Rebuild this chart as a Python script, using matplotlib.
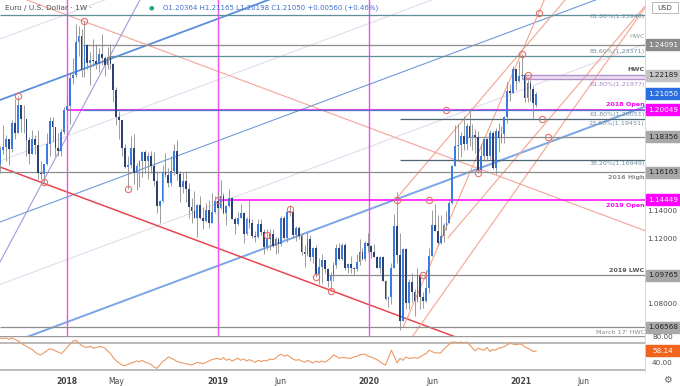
import numpy as np
import pandas as pd
import matplotlib
matplotlib.use('Agg')
import matplotlib.pyplot as plt
import matplotlib.dates as mdates
from matplotlib.patches import Rectangle

# weekly EUR/USD candles, week of 2017-07-24 through 2021-02-08
weeks = pd.date_range('2017-07-24', periods=186, freq='7D')

open_ = [
    # 2017
    1.1665, 1.1752, 1.1774, 1.1822, 1.1761, 1.1924, 1.1860, 1.2035, 1.1945, 1.1950, 1.1816, 1.1730,
    1.1820, 1.1785, 1.1610, 1.1608, 1.1665, 1.1790, 1.1935, 1.1895, 1.1770, 1.1750, 1.1865,
    # 2018
    1.2005, 1.2030, 1.2200, 1.2220, 1.2425, 1.2460, 1.2250, 1.2405, 1.2295, 1.2315, 1.2305, 1.2290,
    1.2350, 1.2325, 1.2280, 1.2330, 1.2290, 1.2130, 1.1960, 1.1940, 1.1770, 1.1650, 1.1660, 1.1770,
    1.1610, 1.1655, 1.1685, 1.1745, 1.1685, 1.1720, 1.1655, 1.1565, 1.1410, 1.1440, 1.1620, 1.1600,
    1.1550, 1.1625, 1.1750, 1.1605, 1.1525, 1.1560, 1.1515, 1.1400, 1.1375, 1.1335, 1.1415, 1.1335,
    1.1315, 1.1385, 1.1305, 1.1370, 1.1440,
    # 2019
    1.1395, 1.1470, 1.1365, 1.1410, 1.1455, 1.1325, 1.1295, 1.1335, 1.1365, 1.1235, 1.1325, 1.1300,
    1.1220, 1.1215, 1.1295, 1.1245, 1.1150, 1.1200, 1.1235, 1.1160, 1.1205, 1.1170, 1.1330, 1.1210,
    1.1370, 1.1370, 1.1225, 1.1270, 1.1220, 1.1125, 1.1110, 1.1200, 1.1090, 1.1145, 1.0985, 1.1030,
    1.1075, 1.1015, 1.0940, 1.0975, 1.1040, 1.1145, 1.1080, 1.1165, 1.1020, 1.1050, 1.1020, 1.1015,
    1.1060, 1.1120, 1.1080, 1.1175,
    # 2020
    1.1160, 1.1120, 1.1090, 1.1025, 1.1090, 1.0945, 1.0830, 1.0845, 1.1025, 1.1285, 1.1105, 1.0695,
    1.1140, 1.0805, 1.0935, 1.0875, 1.0820, 1.0980, 1.0840, 1.0820, 1.0900, 1.1100, 1.1290, 1.1255,
    1.1180, 1.1220, 1.1290, 1.1300, 1.1425, 1.1655, 1.1780, 1.1785, 1.1840, 1.1795, 1.1905, 1.1835,
    1.1845, 1.1835, 1.1630, 1.1715, 1.1825, 1.1715, 1.1860, 1.1645, 1.1875, 1.1830, 1.1855, 1.1960,
    1.2120, 1.2110, 1.2255, 1.2185,
    # 2021
    1.2215, 1.2220, 1.2075, 1.2170, 1.2135, 1.20364,
]
high = [
    1.1777, 1.1910, 1.1845, 1.1823, 1.1941, 1.2070, 1.2092, 1.2035, 1.2034, 1.1950, 1.1835, 1.1880,
    1.1845, 1.1880, 1.1688, 1.1670, 1.1860, 1.1961, 1.1961, 1.1900, 1.1862, 1.1885, 1.2023,
    1.2089, 1.2230, 1.2323, 1.2537, 1.2521, 1.2507, 1.2556, 1.2410, 1.2365, 1.2446, 1.2413, 1.2388,
    1.2476, 1.2340, 1.2396, 1.2414, 1.2295, 1.2145, 1.1995, 1.1944, 1.1790, 1.1720, 1.1840, 1.1852,
    1.1675, 1.1690, 1.1749, 1.1755, 1.1745, 1.1750, 1.1744, 1.1622, 1.1446, 1.1663, 1.1734, 1.1643,
    1.1720, 1.1791, 1.1815, 1.1625, 1.1621, 1.1622, 1.1549, 1.1456, 1.1500, 1.1420, 1.1472, 1.1402,
    1.1423, 1.1443, 1.1486, 1.1470, 1.1497,
    1.1570, 1.1490, 1.1415, 1.1514, 1.1463, 1.1341, 1.1370, 1.1420, 1.1370, 1.1340, 1.1448, 1.1325,
    1.1255, 1.1324, 1.1324, 1.1264, 1.1265, 1.1264, 1.1262, 1.1215, 1.1214, 1.1348, 1.1347, 1.1380,
    1.1412, 1.1385, 1.1286, 1.1286, 1.1241, 1.1166, 1.1250, 1.1230, 1.1153, 1.1165, 1.1085, 1.1110,
    1.1075, 1.1025, 1.0999, 1.1063, 1.1172, 1.1179, 1.1175, 1.1176, 1.1052, 1.1097, 1.1030, 1.1110,
    1.1200, 1.1146, 1.1188, 1.1239,
    1.1165, 1.1173, 1.1100, 1.1097, 1.1095, 1.0950, 1.0850, 1.1053, 1.1356, 1.1496, 1.1237, 1.1147,
    1.1147, 1.0955, 1.0990, 1.0890, 1.1020, 1.0980, 1.0876, 1.1008, 1.1147, 1.1384, 1.1422, 1.1350,
    1.1349, 1.1302, 1.1375, 1.1452, 1.1660, 1.1909, 1.1916, 1.1866, 1.1966, 1.1922, 1.2011, 1.1917,
    1.1883, 1.1872, 1.1790, 1.1830, 1.1830, 1.1880, 1.1870, 1.1891, 1.1920, 1.1905, 1.1965, 1.2177,
    1.2167, 1.2273, 1.2260, 1.2310,
    1.2349, 1.2230, 1.2190, 1.2190, 1.2150, 1.21165,
]
low = [
    1.1612, 1.1730, 1.1688, 1.1662, 1.1742, 1.1823, 1.1860, 1.1868, 1.1861, 1.1717, 1.1669, 1.1730,
    1.1730, 1.1574, 1.1573, 1.1554, 1.1660, 1.1720, 1.1807, 1.1716, 1.1717, 1.1718, 1.1855,
    1.2003, 1.1916, 1.2165, 1.2210, 1.2338, 1.2206, 1.2206, 1.2260, 1.2155, 1.2273, 1.2260, 1.2240,
    1.2280, 1.2215, 1.2260, 1.2260, 1.2055, 1.1910, 1.1823, 1.1717, 1.1645, 1.1510, 1.1644, 1.1541,
    1.1508, 1.1528, 1.1590, 1.1612, 1.1575, 1.1612, 1.1529, 1.1365, 1.1301, 1.1432, 1.1588, 1.1526,
    1.1530, 1.1602, 1.1569, 1.1432, 1.1485, 1.1432, 1.1335, 1.1301, 1.1335, 1.1216, 1.1325, 1.1267,
    1.1311, 1.1270, 1.1301, 1.1365, 1.1310,
    1.1390, 1.1360, 1.1290, 1.1400, 1.1325, 1.1235, 1.1290, 1.1330, 1.1176, 1.1225, 1.1272, 1.1212,
    1.1183, 1.1210, 1.1226, 1.1110, 1.1135, 1.1134, 1.1155, 1.1107, 1.1116, 1.1160, 1.1202, 1.1182,
    1.1345, 1.1208, 1.1193, 1.1200, 1.1101, 1.1027, 1.1100, 1.1067, 1.1051, 1.0965, 1.0926, 1.0927,
    1.0990, 1.0903, 1.0879, 1.0940, 1.1020, 1.1075, 1.1073, 1.1013, 1.0990, 1.0990, 1.0981, 1.1005,
    1.1039, 1.1075, 1.1065, 1.1125,
    1.1085, 1.1090, 1.1020, 1.0992, 1.0940, 1.0827, 1.0778, 1.0801, 1.1020, 1.1055, 1.0636, 1.0695,
    1.0768, 1.0770, 1.0812, 1.0727, 1.0810, 1.0768, 1.0775, 1.0810, 1.0870, 1.1095, 1.1250, 1.1168,
    1.1170, 1.1185, 1.1260, 1.1300, 1.1420, 1.1655, 1.1695, 1.1710, 1.1753, 1.1755, 1.1780, 1.1753,
    1.1737, 1.1612, 1.1612, 1.1686, 1.1689, 1.1700, 1.1640, 1.1603, 1.1745, 1.1800, 1.1800, 1.1923,
    1.2059, 1.2110, 1.2130, 1.2175,
    1.2194, 1.2055, 1.2054, 1.2060, 1.1952, 1.20198,
]
close = [
    1.1752, 1.1774, 1.1822, 1.1761, 1.1924, 1.1860, 1.2035, 1.1945, 1.1950, 1.1816, 1.1730, 1.1820,
    1.1785, 1.1610, 1.1608, 1.1665, 1.1790, 1.1935, 1.1895, 1.1770, 1.1750, 1.1865, 1.2005,
    1.2030, 1.2200, 1.2220, 1.2425, 1.2460, 1.2250, 1.2405, 1.2295, 1.2315, 1.2305, 1.2290, 1.2350,
    1.2325, 1.2280, 1.2330, 1.2290, 1.2130, 1.1960, 1.1940, 1.1770, 1.1650, 1.1660, 1.1770, 1.1610,
    1.1655, 1.1685, 1.1745, 1.1685, 1.1720, 1.1655, 1.1565, 1.1410, 1.1440, 1.1620, 1.1600, 1.1550,
    1.1625, 1.1750, 1.1605, 1.1525, 1.1560, 1.1515, 1.1400, 1.1375, 1.1335, 1.1415, 1.1335, 1.1315,
    1.1385, 1.1305, 1.1370, 1.1440, 1.1395,
    1.1470, 1.1365, 1.1410, 1.1455, 1.1325, 1.1295, 1.1335, 1.1365, 1.1235, 1.1325, 1.1300, 1.1220,
    1.1215, 1.1295, 1.1245, 1.1150, 1.1200, 1.1235, 1.1160, 1.1205, 1.1170, 1.1330, 1.1210, 1.1370,
    1.1370, 1.1225, 1.1270, 1.1220, 1.1125, 1.1110, 1.1200, 1.1090, 1.1145, 1.0985, 1.1030, 1.1075,
    1.1015, 1.0940, 1.0975, 1.1040, 1.1145, 1.1080, 1.1165, 1.1020, 1.1050, 1.1020, 1.1015, 1.1060,
    1.1120, 1.1080, 1.1175, 1.1160,
    1.1120, 1.1090, 1.1025, 1.1090, 1.0945, 1.0830, 1.0845, 1.1025, 1.1285, 1.1105, 1.0695, 1.1140,
    1.0805, 1.0935, 1.0875, 1.0820, 1.0980, 1.0840, 1.0820, 1.0900, 1.1100, 1.1290, 1.1255, 1.1180,
    1.1220, 1.1290, 1.1300, 1.1425, 1.1655, 1.1780, 1.1785, 1.1840, 1.1795, 1.1905, 1.1835, 1.1845,
    1.1835, 1.1630, 1.1715, 1.1825, 1.1715, 1.1860, 1.1645, 1.1875, 1.1830, 1.1855, 1.1960, 1.2120,
    1.2110, 1.2255, 1.2185, 1.2215,
    1.2220, 1.2075, 1.2170, 1.2135, 1.2045, 1.21050,
]

# weekly RSI
rsi = [
    77, 76, 77, 75, 77, 75, 73, 70, 67, 65, 62, 60, 56, 53, 52, 55, 58, 61, 60, 58, 56, 54, 58, 63,
    68, 72, 74, 70, 66, 64, 63, 65, 62, 63, 64, 64, 62, 58, 54, 48, 43, 40, 37, 36, 38, 40, 41, 43,
    42, 44, 41, 40, 38, 34, 32, 37, 42, 45, 49, 47, 45, 42, 41, 40, 39, 38, 37, 39, 41, 40, 39, 41,
    43, 45, 46, 47, 45, 48, 44, 46, 43, 45, 47, 44, 46, 43, 45, 43, 41, 44, 42, 44, 43, 46, 45, 47,
    51, 53, 50, 52, 49, 46, 44, 45, 43, 41, 44, 42, 40, 43, 41, 43, 41, 44, 47, 52, 50,
    47, 48, 48, 47, 47, 49, 50, 52, 53, 53, 50, 49, 47, 45, 42, 39, 37, 48, 59, 50, 40, 47, 44, 49,
    47, 47, 48, 47, 49, 52, 54, 59, 57, 55, 55, 55, 60, 64, 68, 71, 71, 70, 71, 70, 71, 67, 62, 58,
    62, 60, 59, 63, 57, 60, 59, 62, 63, 64, 67, 69, 68, 67, 68, 68, 64, 62, 60, 57, 58.14,
]

# horizontal levels: price, start date, colour, width
levels = [
    (1.25948, '2017-07-01', '#5f8f9c', 0.9),
    (1.24091, '2018-02-08', '#8c8c8c', 0.9),
    (1.23371, '2018-04-15', '#5f8f9c', 0.9),
    (1.22189, '2021-01-05', '#b28fc4', 0.9),
    (1.21977, '2021-01-05', '#b28fc4', 0.9),
    (1.20049, '2018-01-01', '#ff00ff', 1.1),
    (1.20051, '2018-02-08', '#4a78c0', 0.9),
    (1.19451, '2020-03-16', '#4d6670', 0.9),
    (1.18356, '2020-08-25', '#8c8c8c', 0.9),
    (1.16949, '2020-03-16', '#4d6670', 0.9),
    (1.16163, '2017-07-01', '#8c8c8c', 0.9),
    (1.14449, '2019-01-01', '#ff00ff', 1.1),
    (1.09765, '2019-09-24', '#8c8c8c', 0.9),
    (1.06568, '2017-07-01', '#8c8c8c', 0.9),
]

# level notes at the right edge: price of text, text, colour, bold
notes = [
    (1.2583, '61.80%(1.25948)', '#6f8fa0', False),
    (1.2458, 'HWC', '#9a9a9a', False),
    (1.2365, '88.60%(1.23371)', '#6f8fa0', False),
    (1.2254, 'HWC', '#555555', True),
    (1.2160, '61.80%(1.21977)', '#a184b8', False),
    (1.2035, '2018 Open', '#ff00ff', True),
    (1.1975, '61.80%(1.20051)', '#6f8fa0', False),
    (1.1920, '23.60%(1.19451)', '#6f8fa0', False),
    (1.1672, '38.20%(1.16949)', '#6f8fa0', False),
    (1.1585, '2016 High', '#8a8a8a', True),
    (1.1412, '2019 Open', '#ff00ff', True),
    (1.1010, '2019 LWC', '#555555', True),
    (1.0625, "March 17' HWC", '#8a8a8a', False),
]

# price tags on the right scale: price, text, fill, text colour
tags = [
    (1.24091, '1.24091', '#8a8a8a', 'white'),
    (1.22189, '1.22189', '#c4c4c4', '#222222'),
    (1.21050, '1.21050', '#2a6ee0', 'white'),
    (1.20049, '1.20049', '#ff00ff', 'white'),
    (1.18356, '1.18356', '#a8a8a8', '#222222'),
    (1.16163, '1.16163', '#a8a8a8', '#222222'),
    (1.14449, '1.14449', '#ff00ff', 'white'),
    (1.09765, '1.09765', '#a8a8a8', '#222222'),
    (1.06568, '1.06568', '#a8a8a8', '#222222'),
]
# scale labels left uncovered by the tags
price_ticks = [1.14, 1.12, 1.08]

# trend lines: two anchor points each (date, price)
blue_channel = [
    (('2017-07-23', 1.20650), ('2021-07-13', 1.34534), '#5b8fdc', 1.3),
    (('2017-07-23', 1.13082), ('2021-07-13', 1.26966), '#6f9bd8', 0.8),
    (('2017-07-23', 1.05327), ('2021-07-13', 1.19210), '#7aa5e6', 1.4),
]
faint_lines = [
    (('2017-07-23', 1.24434), ('2021-07-13', 1.38318)),
    (('2017-07-23', 1.16866), ('2021-07-13', 1.30750)),
    (('2017-07-23', 1.09205), ('2021-07-13', 1.23088)),
]
red_channel = [
    (('2017-07-23', 1.16494), ('2021-07-13', 1.02598), '#e8474f', 1.1),
    (('2017-07-23', 1.27474), ('2021-07-13', 1.13578), '#f3a39a', 0.8),
]
violet_line = (('2017-07-23', 1.10600), ('2018-06-26', 1.26853))
# rising fork lines from the 2020 low: start point, second point
salmon_rays = [
    (('2020-03-24', 1.06568), ('2020-12-27', 1.23131)),
    (('2020-03-04', 1.14446), ('2021-03-21', 1.25985)),
    (('2020-07-10', 1.12108), ('2021-03-09', 1.19409)),
    (('2020-04-07', 1.05700), ('2021-08-30', 1.24200)),
]
pivots = [('2017-09-04', 1.2092), ('2017-11-06', 1.1554), ('2018-02-12', 1.2556),
          ('2018-05-28', 1.1510), ('2019-01-01', 1.14449), ('2019-04-29', 1.1225),
          ('2019-06-24', 1.1390), ('2019-08-26', 1.0965), ('2019-09-30', 1.0879),
          ('2020-03-09', 1.14449), ('2020-05-11', 1.09765), ('2020-05-25', 1.14449),
          ('2020-07-06', 1.20049), ('2020-09-21', 1.1612), ('2021-01-04', 1.2349),
          ('2021-01-18', 1.22189), ('2021-02-15', 1.2602), ('2021-02-22', 1.19451),
          ('2021-03-08', 1.18356)]

W, H = 680, 386
fig = plt.figure(figsize=(W / 100, H / 100), dpi=100)
fig.patch.set_facecolor('white')


def box(x0, y0, x1, y1):
    return fig.add_axes([x0 / W, 1 - y1 / H, (x1 - x0) / W, (y1 - y0) / H])


ax = box(0, 0, 645, 336)
rax = box(645, 0, 680, 336)
ax2 = box(0, 336, 645, 373)
rax2 = box(645, 336, 680, 373)

x_lo = mdates.date2num(pd.Timestamp('2017-07-23'))
x_hi = mdates.date2num(pd.Timestamp('2021-10-29'))
y_lo, y_hi = 1.06010, 1.26853
for a in (ax, ax2):
    a.set_xlim(x_lo, x_hi)
ax.set_ylim(y_lo, y_hi)
rax.set_ylim(y_lo, y_hi)
rax.set_xlim(0, 1)
ax2.set_ylim(25.2, 80)
rax2.set_ylim(25.2, 80)
rax2.set_xlim(0, 1)

for a in (ax, rax, ax2, rax2):
    a.set_xticks([])
    a.set_yticks([])
    for s in a.spines.values():
        s.set_visible(False)

d = lambda s: mdates.date2num(pd.Timestamp(s))


def ray(a, p, q, **kw):
    x1, y1 = d(p[0]), p[1]
    x2, y2 = d(q[0]), q[1]
    k = (y2 - y1) / (x2 - x1)
    a.plot([x1, x_hi], [y1, y1 + k * (x_hi - x1)], **kw)


def full_line(a, p, q, **kw):
    x1, y1 = d(p[0]), p[1]
    x2, y2 = d(q[0]), q[1]
    k = (y2 - y1) / (x2 - x1)
    a.plot([x_lo, x_hi], [y1 + k * (x_lo - x1), y1 + k * (x_hi - x1)], **kw)


# trend lines
for p, q in faint_lines:
    full_line(ax, p, q, color='#e2dcec', lw=0.8, zorder=1)
for p, q, c, w in blue_channel:
    full_line(ax, p, q, color=c, lw=w, zorder=2)
for p, q, c, w in red_channel:
    full_line(ax, p, q, color=c, lw=w, zorder=2)
full_line(ax, violet_line[0], violet_line[1], color='#a39ae0', lw=0.8, zorder=2)
for p, q in salmon_rays:
    ray(ax, p, q, color='#f4a58f', lw=0.8, zorder=2)

# vertical yearly markers
for yr in ['2018-01-01', '2019-01-01', '2020-01-01']:
    ax.axvline(d(yr), color='#f050f0', lw=1.0, zorder=2)

# horizontal levels
ax.fill_between([d('2021-01-05'), x_hi], 1.21977, 1.22189, color='#eadcf2', zorder=1)
for price, start, c, w in levels:
    ax.hlines(price, max(d(start), x_lo), x_hi, color=c, lw=w, zorder=2)

# candles
xs = mdates.date2num(weeks)
o = np.array(open_)
hi = np.array(high)
lo = np.array(low)
c = np.array(close)
up = c >= o
ax.vlines(xs, lo, hi, color='#8c8c8c', lw=0.6, zorder=3)
body = np.maximum(np.abs(c - o), 0.0004)
ax.bar(xs[up], body[up], bottom=o[up], width=4.3, color='#3a7be0', zorder=4)
ax.bar(xs[~up], body[~up], bottom=c[~up], width=4.3, color='#2e4170', zorder=4)

# pivot circles
for dt, pr in pivots:
    ax.plot(d(dt), pr, marker='o', ms=4.5, mfc='none', mec='#e8706a', mew=0.8, zorder=5)

# level notes
for pr, txt, col, bold in notes:
    ax.text(x_hi - 1, pr, txt, ha='right', va='center', fontsize=4.6, color=col,
            fontweight='bold' if bold else 'normal', zorder=6)

# header
fig.text(5 / W, 1 - 8 / H, 'Euro / U.S. Dollar · 1W ·', fontsize=5.3, color='#505050', va='center')
fig.text(151 / W, 1 - 8 / H, '●', fontsize=4.5, color='#1fa77f', va='center', ha='center')
fig.text(163 / W, 1 - 8 / H, 'O1.20364 H1.21165 L1.20198 C1.21050 +0.00560 (+0.46%)',
         fontsize=5.0, color='#3c6fd0', va='center')

# right price scale
for pt in price_ticks:
    rax.text(0.5, pt - 0.0025 if pt == 1.14 else pt, f'{pt:.5f}', ha='center', va='center',
             fontsize=5.2, color='#4a4a4a')
th = 11 / 1612
for pr, txt, fc, tc in tags:
    rax.add_patch(Rectangle((0.04, pr - th / 2), 0.96, th, color=fc, zorder=5))
    rax.text(0.52, pr, txt, ha='center', va='center', fontsize=5.2, color=tc, zorder=6)
rax.add_patch(Rectangle((0.2, y_hi - 13 / 1612), 0.74, 11 / 1612, fc='white', ec='#b0b0b0',
                        lw=0.6, zorder=7))
rax.text(0.57, y_hi - 7.5 / 1612, 'USD', ha='center', va='center', fontsize=5.0,
         color='#444444', zorder=8)
rax.axvline(0, color='#d0d0d0', lw=0.6)

# RSI panel
ax2.plot(xs, rsi, color='#eb9a64', lw=0.8, zorder=3)
ax2.axhline(70, color='#a8a8a8', lw=1.1)
ax2.axhline(30, color='#a8a8a8', lw=1.1)
ax2.axhline(80, color='#9a9a9a', lw=1.0)
ax2.axhline(25.2, color='#c8c8c8', lw=0.8)
rax2.text(0.5, 78.5, '80.00', ha='center', va='center', fontsize=5.2, color='#4a4a4a')
rax2.text(0.5, 40, '40.00', ha='center', va='center', fontsize=5.2, color='#4a4a4a')
rth = 11 / 0.675
rax2.add_patch(Rectangle((0.04, rsi[-1] - rth / 2), 0.96, rth, color='#f0641e', zorder=5))
rax2.text(0.52, rsi[-1], f'{rsi[-1]:.2f}', ha='center', va='center', fontsize=5.2,
          color='white', zorder=6)
rax2.axvline(0, color='#d0d0d0', lw=0.6)

# time axis labels
xlabels = [('2018-01-01', '2018', True), ('2018-05-01', 'May', False),
           ('2019-01-01', '2019', True), ('2019-06-01', 'Jun', False),
           ('2020-01-01', '2020', True), ('2020-06-01', 'Jun', False),
           ('2021-01-01', '2021', True), ('2021-06-01', 'Jun', False)]
for dt, txt, bold in xlabels:
    ax2.text(d(dt), 25.2 - 8 * (54.8 / 37), txt, ha='center', va='center', fontsize=5.5,
             color='#444444', fontweight='bold' if bold else 'normal', clip_on=False)
fig.text(667 / W, 1 - 380 / H, '⚙', fontsize=7, color='#666666', ha='center', va='center')

fig.savefig('out.png', dpi=100, facecolor='white')
